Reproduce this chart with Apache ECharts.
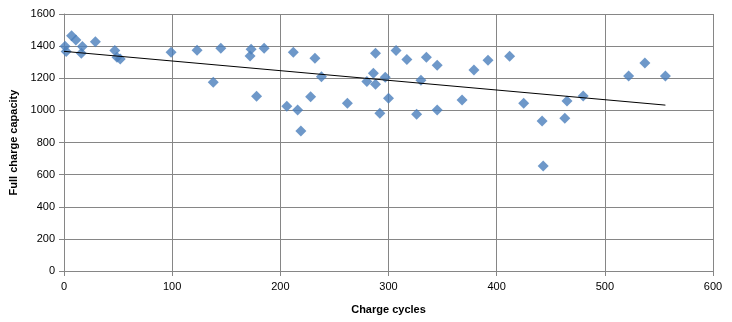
<!DOCTYPE html>
<html>
<head>
<meta charset="utf-8">
<script src="https://cdn.jsdelivr.net/npm/echarts@6/dist/echarts.min.js"></script>
<style>
    html, body { margin: 0; padding: 0; background: #fff; }
    #chart { width: 732px; height: 322px; }
</style>
</head>
<body>
<div id="chart"></div>
<script>
    // charge cycles vs full charge capacity
    var cycles = [1, 2, 7, 11, 17, 16, 29, 47, 49, 52, 99, 123, 138, 145, 172, 173, 178, 185,
        206, 212, 216, 219, 228, 232, 238, 262, 280, 286, 288, 288, 292, 297, 300, 307, 317,
        326, 330, 335, 345, 345, 368, 379, 392, 412, 425, 442, 443, 463, 465, 480, 522, 537, 556];
    var capacity = [1400, 1366, 1465, 1438, 1397, 1356, 1428, 1372, 1330, 1320, 1362, 1374, 1175, 1387, 1339, 1380, 1088, 1387,
        1025, 1362, 1002, 872, 1085, 1324, 1210, 1044, 1179, 1231, 1356, 1163, 982, 1206, 1075, 1372, 1316,
        976, 1187, 1330, 1281, 1002, 1065, 1252, 1312, 1337, 1044, 934, 654, 951, 1059, 1090, 1214, 1295, 1214];
    var xTicks = [0, 100, 200, 300, 400, 500, 600];
    var yTicks = [0, 200, 400, 600, 800, 1000, 1200, 1400, 1600];

    var points = [];
    for (var i = 0; i < cycles.length; i++) {
        points.push([cycles[i], capacity[i]]);
    }

    // linear trendline (least squares)
    var n = cycles.length, sx = 0, sy = 0, sxx = 0, sxy = 0;
    for (i = 0; i < n; i++) {
        sx += cycles[i]; sy += capacity[i];
        sxx += cycles[i] * cycles[i]; sxy += cycles[i] * capacity[i];
    }
    var slope = (n * sxy - sx * sy) / (n * sxx - sx * sx);
    var intercept = (sy - slope * sx) / n;
    var xMin = 0, xMax = Math.max.apply(null, cycles);
    var trend = [[xMin, intercept + slope * xMin], [xMax, intercept + slope * xMax]];

    var gridColor = '#868686';
    var font = 'Liberation Sans';

    var myChart = echarts.init(document.getElementById('chart'));
    var option = {
        animation: false,
        grid: { left: 64, right: 19, top: 14, bottom: 51 },
        xAxis: {
            type: 'value',
            min: xTicks[0], max: xTicks[xTicks.length - 1], interval: 100,
            name: 'Charge cycles',
            nameLocation: 'middle',
            nameGap: 33,
            nameTextStyle: { fontFamily: font, fontWeight: 'bold', fontSize: 11, color: '#000' },
            axisLine: { lineStyle: { color: gridColor } },
            axisTick: { show: true, length: 5, lineStyle: { color: gridColor } },
            axisLabel: { fontFamily: font, fontSize: 11, color: '#000', margin: 10,
                formatter: function (v) { return String(v); } },
            splitLine: { show: true, lineStyle: { color: gridColor } }
        },
        yAxis: {
            type: 'value',
            min: yTicks[0], max: yTicks[yTicks.length - 1], interval: 200,
            name: 'Full charge capacity',
            nameLocation: 'middle',
            nameGap: 44,
            nameTextStyle: { fontFamily: font, fontWeight: 'bold', fontSize: 11, color: '#000' },
            axisLine: { show: true, lineStyle: { color: gridColor } },
            axisTick: { show: true, length: 5, lineStyle: { color: gridColor } },
            axisLabel: { fontFamily: font, fontSize: 11, color: '#000', margin: 9,
                formatter: function (v) { return String(v); } },
            splitLine: { show: true, lineStyle: { color: gridColor } }
        },
        series: [
            {
                type: 'scatter',
                data: points,
                symbol: 'diamond',
                symbolSize: 11,
                itemStyle: { color: '#4a7ebb' }
            },
            {
                type: 'line',
                data: trend,
                symbol: 'none',
                lineStyle: { color: '#000', width: 1 },
                z: 3
            }
        ]
    };
    myChart.setOption(option);
</script>
</body>
</html>
